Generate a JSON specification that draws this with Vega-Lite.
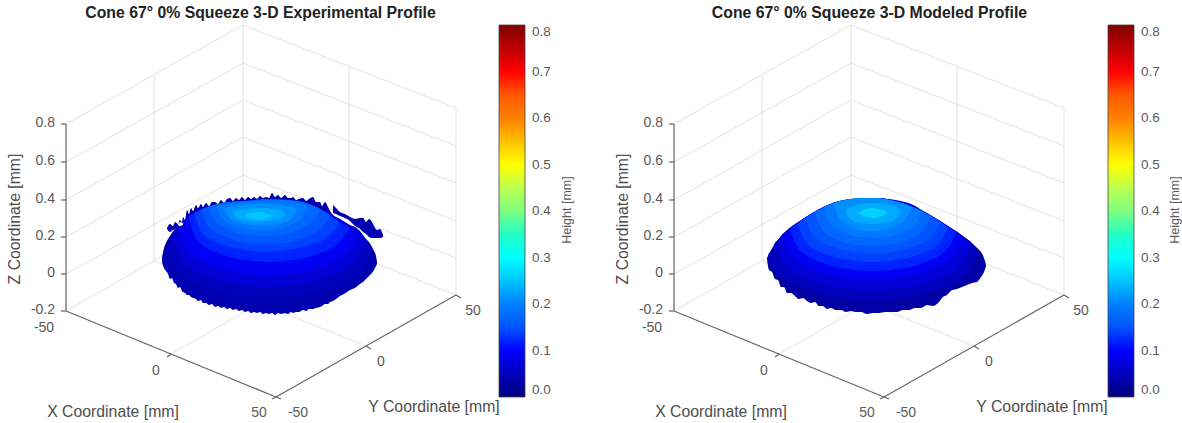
{"$schema":"https://vega.github.io/schema/vega-lite/v6.json","background":"white","padding":0,"autosize":{"type":"pad"},"bounds":"flush","spacing":0,"config":{"view":{"stroke":null},"font":"Liberation Sans","concat":{"spacing":0}},
"datasets":{
"grid":[{"x":66,"y":124,"x2":243,"y2":25},{"x":66,"y":162,"x2":243,"y2":63},{"x":66,"y":200,"x2":243,"y2":100},{"x":66,"y":237,"x2":243,"y2":137},{"x":66,"y":274,"x2":243,"y2":175},{"x":66,"y":311,"x2":243,"y2":210},{"x":243,"y":25,"x2":456,"y2":108},{"x":243,"y":63,"x2":456,"y2":146},{"x":243,"y":100,"x2":456,"y2":183},{"x":243,"y":137,"x2":456,"y2":221},{"x":243,"y":175,"x2":456,"y2":258},{"x":243,"y":210,"x2":456,"y2":295},{"x":243,"y":25,"x2":243,"y2":210},{"x":456,"y":108,"x2":456,"y2":295},{"x":154,"y":76,"x2":154,"y2":261},{"x":349,"y":67,"x2":349,"y2":252},{"x":171,"y":354,"x2":349,"y2":252},{"x":366,"y":346,"x2":154,"y2":261}],
"axes":[{"x":66,"y":124,"x2":66,"y2":311},{"x":66,"y":311,"x2":276,"y2":397},{"x":276,"y":397,"x2":456,"y2":295},{"x":66,"y":124,"x2":61,"y2":124},{"x":66,"y":162,"x2":61,"y2":162},{"x":66,"y":200,"x2":61,"y2":200},{"x":66,"y":237,"x2":61,"y2":237},{"x":66,"y":274,"x2":61,"y2":274},{"x":66,"y":311,"x2":61,"y2":311},{"x":171,"y":354,"x2":167,"y2":357},{"x":276,"y":397,"x2":272,"y2":399},{"x":366,"y":346,"x2":371,"y2":349},{"x":456,"y":295,"x2":461,"y2":298},{"x":276,"y":397,"x2":281,"y2":399}],
"zticks":[{"x":55,"y":123,"t":"0.8"},{"x":55,"y":161,"t":"0.6"},{"x":55,"y":199,"t":"0.4"},{"x":55,"y":236,"t":"0.2"},{"x":55,"y":273,"t":"0"},{"x":55,"y":310,"t":"-0.2"}],
"xyticks":[{"x":44,"y":328,"t":"-50"},{"x":156,"y":371,"t":"0"},{"x":259,"y":413,"t":"50"},{"x":298,"y":413,"t":"-50"},{"x":381,"y":362,"t":"0"},{"x":473,"y":311,"t":"50"}],
"axistitles":[{"x":113,"y":412,"t":"X Coordinate [mm]"},{"x":434,"y":407,"t":"Y Coordinate [mm]"}],
"ztitle":[{"x":15,"y":219,"t":"Z Coordinate [mm]"}],
"cbtitle":[{"x":567,"y":210,"t":"Height [mm]"}],
"domeE":[
{"b":"t1","h":0.04,"x":167,"y":228,"y2":229},{"b":"t1","h":0.04,"x":170,"y":224,"y2":232},{"b":"t1","h":0.04,"x":173,"y":226,"y2":230},{"b":"t1","h":0.04,"x":175,"y":222,"y2":229},{"b":"t1","h":0.04,"x":178,"y":224,"y2":228},{"b":"t1","h":0.04,"x":180,"y":220,"y2":226},
{"b":"t2","h":0.04,"x":333,"y":205,"y2":213},{"b":"t2","h":0.04,"x":336,"y":208,"y2":214},{"b":"t2","h":0.04,"x":340,"y":212,"y2":216},{"b":"t2","h":0.04,"x":345,"y":214,"y2":218},{"b":"t2","h":0.04,"x":350,"y":217,"y2":221},{"b":"t2","h":0.04,"x":355,"y":219,"y2":226},{"b":"t2","h":0.04,"x":360,"y":218,"y2":229},{"b":"t2","h":0.04,"x":363,"y":218,"y2":232},{"b":"t2","h":0.04,"x":366,"y":222,"y2":234},{"b":"t2","h":0.04,"x":369,"y":219,"y2":237},{"b":"t2","h":0.04,"x":372,"y":222,"y2":238},{"b":"t2","h":0.04,"x":374,"y":226,"y2":238},{"b":"t2","h":0.04,"x":377,"y":230,"y2":238},{"b":"t2","h":0.04,"x":380,"y":229,"y2":238},{"b":"t2","h":0.04,"x":383,"y":235,"y2":237},
{"b":"b0","h":0.04,"x":162,"y":258,"y2":262},{"b":"b0","h":0.04,"x":164,"y":248,"y2":268},{"b":"b0","h":0.04,"x":166,"y":243,"y2":271},{"b":"b0","h":0.04,"x":168,"y":239,"y2":274},{"b":"b0","h":0.04,"x":170,"y":236,"y2":279},{"b":"b0","h":0.04,"x":172,"y":233,"y2":278},{"b":"b0","h":0.04,"x":174,"y":230,"y2":283},{"b":"b0","h":0.04,"x":176,"y":228,"y2":284},{"b":"b0","h":0.04,"x":178,"y":225,"y2":288},{"b":"b0","h":0.04,"x":180,"y":220,"y2":287},{"b":"b0","h":0.04,"x":182,"y":222,"y2":291},{"b":"b0","h":0.04,"x":183,"y":217,"y2":292},{"b":"b0","h":0.04,"x":185,"y":220,"y2":293},{"b":"b0","h":0.04,"x":187,"y":210,"y2":295},{"b":"b0","h":0.04,"x":189,"y":214,"y2":295},{"b":"b0","h":0.04,"x":191,"y":208,"y2":297},{"b":"b0","h":0.04,"x":193,"y":211,"y2":298},{"b":"b0","h":0.04,"x":196,"y":205,"y2":299},{"b":"b0","h":0.04,"x":198,"y":208,"y2":301},{"b":"b0","h":0.04,"x":201,"y":204,"y2":300},{"b":"b0","h":0.04,"x":203,"y":207,"y2":303},{"b":"b0","h":0.04,"x":206,"y":203,"y2":303},{"b":"b0","h":0.04,"x":209,"y":206,"y2":305},{"b":"b0","h":0.04,"x":212,"y":202,"y2":304},{"b":"b0","h":0.04,"x":215,"y":202,"y2":307},{"b":"b0","h":0.04,"x":218,"y":204,"y2":306},{"b":"b0","h":0.04,"x":221,"y":200,"y2":308},{"b":"b0","h":0.04,"x":224,"y":203,"y2":307},{"b":"b0","h":0.04,"x":227,"y":199,"y2":309},{"b":"b0","h":0.04,"x":230,"y":198,"y2":308},{"b":"b0","h":0.04,"x":233,"y":201,"y2":310},{"b":"b0","h":0.04,"x":236,"y":198,"y2":309},{"b":"b0","h":0.04,"x":239,"y":200,"y2":311},{"b":"b0","h":0.04,"x":242,"y":197,"y2":310},{"b":"b0","h":0.04,"x":245,"y":200,"y2":312},{"b":"b0","h":0.04,"x":248,"y":197,"y2":311},{"b":"b0","h":0.04,"x":251,"y":199,"y2":313},{"b":"b0","h":0.04,"x":254,"y":197,"y2":312},{"b":"b0","h":0.04,"x":257,"y":199,"y2":313},{"b":"b0","h":0.04,"x":260,"y":196,"y2":312},{"b":"b0","h":0.04,"x":263,"y":198,"y2":314},{"b":"b0","h":0.04,"x":266,"y":197,"y2":313},{"b":"b0","h":0.04,"x":269,"y":198,"y2":314},{"b":"b0","h":0.04,"x":272,"y":193,"y2":313},{"b":"b0","h":0.04,"x":275,"y":197,"y2":315},{"b":"b0","h":0.04,"x":278,"y":195,"y2":313},{"b":"b0","h":0.04,"x":281,"y":198,"y2":314},{"b":"b0","h":0.04,"x":285,"y":195,"y2":313},{"b":"b0","h":0.04,"x":288,"y":198,"y2":314},{"b":"b0","h":0.04,"x":291,"y":198,"y2":312},{"b":"b0","h":0.04,"x":293,"y":197,"y2":313},{"b":"b0","h":0.04,"x":296,"y":200,"y2":312},{"b":"b0","h":0.04,"x":299,"y":199,"y2":312},{"b":"b0","h":0.04,"x":303,"y":198,"y2":310},{"b":"b0","h":0.04,"x":306,"y":201,"y2":311},{"b":"b0","h":0.04,"x":309,"y":199,"y2":309},{"b":"b0","h":0.04,"x":313,"y":197,"y2":309},{"b":"b0","h":0.04,"x":316,"y":202,"y2":308},{"b":"b0","h":0.04,"x":320,"y":202,"y2":307},{"b":"b0","h":0.04,"x":322,"y":206,"y2":306},{"b":"b0","h":0.04,"x":325,"y":202,"y2":304},{"b":"b0","h":0.04,"x":328,"y":207,"y2":304},{"b":"b0","h":0.04,"x":330,"y":211,"y2":302},{"b":"b0","h":0.04,"x":333,"y":215,"y2":301},{"b":"b0","h":0.04,"x":336,"y":217,"y2":299},{"b":"b0","h":0.04,"x":340,"y":219,"y2":296},{"b":"b0","h":0.04,"x":344,"y":222,"y2":294},{"b":"b0","h":0.04,"x":350,"y":225,"y2":290},{"b":"b0","h":0.04,"x":355,"y":227,"y2":288},{"b":"b0","h":0.04,"x":360,"y":231,"y2":284},{"b":"b0","h":0.04,"x":363,"y":235,"y2":282},{"b":"b0","h":0.04,"x":366,"y":239,"y2":279},{"b":"b0","h":0.04,"x":369,"y":242,"y2":276},{"b":"b0","h":0.04,"x":372,"y":247,"y2":273},{"b":"b0","h":0.04,"x":374,"y":251,"y2":270},{"b":"b0","h":0.04,"x":376,"y":256,"y2":266},{"b":"b0","h":0.04,"x":377,"y":262,"y2":264},
{"b":"b1","h":0.05,"x":166,"y":248,"y2":250},{"b":"b1","h":0.05,"x":176,"y":231,"y2":270},{"b":"b1","h":0.05,"x":207,"y":207,"y2":287},{"b":"b1","h":0.05,"x":238,"y":201,"y2":295},{"b":"b1","h":0.05,"x":269,"y":198,"y2":297},{"b":"b1","h":0.05,"x":300,"y":201,"y2":295},{"b":"b1","h":0.05,"x":331,"y":216,"y2":287},{"b":"b1","h":0.05,"x":362,"y":237,"y2":270},{"b":"b1","h":0.05,"x":372,"y":250,"y2":252},
{"b":"b2","h":0.07,"x":172,"y":236,"y2":238},{"b":"b2","h":0.07,"x":182,"y":223,"y2":260},{"b":"b2","h":0.07,"x":211,"y":206,"y2":277},{"b":"b2","h":0.07,"x":240,"y":201,"y2":285},{"b":"b2","h":0.07,"x":269,"y":199,"y2":287},{"b":"b2","h":0.07,"x":298,"y":201,"y2":285},{"b":"b2","h":0.07,"x":327,"y":213,"y2":277},{"b":"b2","h":0.07,"x":356,"y":230,"y2":260},{"b":"b2","h":0.07,"x":366,"y":240,"y2":242},
{"b":"b3","h":0.09,"x":179,"y":228,"y2":230},{"b":"b3","h":0.09,"x":188,"y":217,"y2":250},{"b":"b3","h":0.09,"x":215,"y":205,"y2":266},{"b":"b3","h":0.09,"x":242,"y":201,"y2":273},{"b":"b3","h":0.09,"x":269,"y":199,"y2":275},{"b":"b3","h":0.09,"x":296,"y":201,"y2":273},{"b":"b3","h":0.09,"x":323,"y":210,"y2":266},{"b":"b3","h":0.09,"x":350,"y":227,"y2":250},{"b":"b3","h":0.09,"x":359,"y":233,"y2":235},
{"b":"b4","h":0.11,"x":189,"y":216,"y2":218},{"b":"b4","h":0.11,"x":197,"y":212,"y2":240},{"b":"b4","h":0.11,"x":221,"y":204,"y2":254},{"b":"b4","h":0.11,"x":245,"y":201,"y2":260},{"b":"b4","h":0.11,"x":269,"y":199,"y2":262},{"b":"b4","h":0.11,"x":293,"y":201,"y2":260},{"b":"b4","h":0.11,"x":317,"y":208,"y2":254},{"b":"b4","h":0.11,"x":341,"y":223,"y2":240},{"b":"b4","h":0.11,"x":349,"y":227,"y2":229},
{"b":"b5","h":0.13,"x":195,"y":213,"y2":215},{"b":"b5","h":0.13,"x":202,"y":209,"y2":233},{"b":"b5","h":0.13,"x":224,"y":203,"y2":245},{"b":"b5","h":0.13,"x":245,"y":201,"y2":250},{"b":"b5","h":0.13,"x":267,"y":199,"y2":252},{"b":"b5","h":0.13,"x":289,"y":200,"y2":250},{"b":"b5","h":0.13,"x":310,"y":205,"y2":245},{"b":"b5","h":0.13,"x":332,"y":217,"y2":233},{"b":"b5","h":0.13,"x":339,"y":222,"y2":224},
{"b":"b6","h":0.15,"x":202,"y":209,"y2":211},{"b":"b6","h":0.15,"x":208,"y":207,"y2":226},{"b":"b6","h":0.15,"x":228,"y":202,"y2":238},{"b":"b6","h":0.15,"x":247,"y":201,"y2":243},{"b":"b6","h":0.15,"x":266,"y":199,"y2":244},{"b":"b6","h":0.15,"x":285,"y":200,"y2":243},{"b":"b6","h":0.15,"x":304,"y":203,"y2":238},{"b":"b6","h":0.15,"x":324,"y":211,"y2":226},{"b":"b6","h":0.15,"x":330,"y":215,"y2":217},
{"b":"b7","h":0.17,"x":208,"y":207,"y2":208},{"b":"b7","h":0.17,"x":214,"y":205,"y2":220},{"b":"b7","h":0.17,"x":230,"y":202,"y2":230},{"b":"b7","h":0.17,"x":247,"y":201,"y2":235},{"b":"b7","h":0.17,"x":264,"y":200,"y2":236},{"b":"b7","h":0.17,"x":281,"y":200,"y2":235},{"b":"b7","h":0.17,"x":298,"y":201,"y2":230},{"b":"b7","h":0.17,"x":314,"y":206,"y2":220},{"b":"b7","h":0.17,"x":320,"y":209,"y2":210},
{"b":"b8","h":0.19,"x":216,"y":206,"y2":207},{"b":"b8","h":0.19,"x":221,"y":205,"y2":217},{"b":"b8","h":0.19,"x":234,"y":203,"y2":225},{"b":"b8","h":0.19,"x":248,"y":202,"y2":229},{"b":"b8","h":0.19,"x":262,"y":201,"y2":230},{"b":"b8","h":0.19,"x":276,"y":200,"y2":229},{"b":"b8","h":0.19,"x":290,"y":201,"y2":225},{"b":"b8","h":0.19,"x":303,"y":204,"y2":217},{"b":"b8","h":0.19,"x":308,"y":206,"y2":207},
{"b":"b9","h":0.21,"x":224,"y":209,"y2":209},{"b":"b9","h":0.21,"x":228,"y":207,"y2":216},{"b":"b9","h":0.21,"x":239,"y":205,"y2":223},{"b":"b9","h":0.21,"x":250,"y":204,"y2":225},{"b":"b9","h":0.21,"x":261,"y":204,"y2":226},{"b":"b9","h":0.21,"x":272,"y":204,"y2":225},{"b":"b9","h":0.21,"x":283,"y":205,"y2":223},{"b":"b9","h":0.21,"x":294,"y":207,"y2":216},{"b":"b9","h":0.21,"x":298,"y":209,"y2":209},
{"b":"c0","h":0.23,"x":233,"y":214,"y2":214},{"b":"c0","h":0.23,"x":236,"y":211,"y2":218},{"b":"c0","h":0.23,"x":243,"y":209,"y2":220},{"b":"c0","h":0.23,"x":259,"y":208,"y2":222},{"b":"c0","h":0.23,"x":275,"y":209,"y2":220},{"b":"c0","h":0.23,"x":282,"y":211,"y2":218},{"b":"c0","h":0.23,"x":285,"y":214,"y2":214},
{"b":"c1","h":0.25,"x":244,"y":216,"y2":216},{"b":"c1","h":0.25,"x":250,"y":213,"y2":219},{"b":"c1","h":0.25,"x":258,"y":212,"y2":220},{"b":"c1","h":0.25,"x":266,"y":213,"y2":219},{"b":"c1","h":0.25,"x":272,"y":216,"y2":216}],
"gapsE":[{"g":"a","x":178,"y":224,"y2":225},{"g":"a","x":180,"y":222,"y2":226},{"g":"a","x":183,"y":223,"y2":225}],
"domeM":[
{"b":0,"h":0.03,"x":159,"y":258,"y2":259},{"b":0,"h":0.03,"x":161,"y":254,"y2":270},{"b":0,"h":0.03,"x":164,"y":249,"y2":272},{"b":0,"h":0.03,"x":167,"y":243,"y2":279},{"b":0,"h":0.03,"x":170,"y":240,"y2":280},{"b":0,"h":0.03,"x":173,"y":236,"y2":287},{"b":0,"h":0.03,"x":176,"y":233,"y2":287},{"b":0,"h":0.03,"x":179,"y":231,"y2":293},{"b":0,"h":0.03,"x":183,"y":228,"y2":293},{"b":0,"h":0.03,"x":187,"y":225,"y2":296},{"b":0,"h":0.03,"x":191,"y":222,"y2":299},{"b":0,"h":0.03,"x":195,"y":219,"y2":298},{"b":0,"h":0.03,"x":199,"y":217,"y2":301},{"b":0,"h":0.03,"x":203,"y":214,"y2":303},{"b":0,"h":0.03,"x":207,"y":212,"y2":302},{"b":0,"h":0.03,"x":211,"y":210,"y2":306},{"b":0,"h":0.03,"x":215,"y":208,"y2":306},{"b":0,"h":0.03,"x":219,"y":206,"y2":309},{"b":0,"h":0.03,"x":223,"y":205,"y2":308},{"b":0,"h":0.03,"x":228,"y":203,"y2":310},{"b":0,"h":0.03,"x":233,"y":201,"y2":310},{"b":0,"h":0.03,"x":238,"y":200,"y2":312},{"b":0,"h":0.03,"x":243,"y":199,"y2":311},{"b":0,"h":0.03,"x":248,"y":199,"y2":312},{"b":0,"h":0.03,"x":253,"y":198,"y2":312},{"b":0,"h":0.03,"x":259,"y":198,"y2":314},{"b":0,"h":0.03,"x":265,"y":198,"y2":313},{"b":0,"h":0.03,"x":271,"y":198,"y2":313},{"b":0,"h":0.03,"x":277,"y":199,"y2":312},{"b":0,"h":0.03,"x":283,"y":200,"y2":312},{"b":0,"h":0.03,"x":289,"y":202,"y2":312},{"b":0,"h":0.03,"x":295,"y":203,"y2":310},{"b":0,"h":0.03,"x":301,"y":205,"y2":310},{"b":0,"h":0.03,"x":307,"y":208,"y2":308},{"b":0,"h":0.03,"x":313,"y":211,"y2":308},{"b":0,"h":0.03,"x":319,"y":213,"y2":305},{"b":0,"h":0.03,"x":325,"y":217,"y2":306},{"b":0,"h":0.03,"x":331,"y":221,"y2":302},{"b":0,"h":0.03,"x":335,"y":223,"y2":297},{"b":0,"h":0.03,"x":339,"y":226,"y2":295},{"b":0,"h":0.03,"x":344,"y":229,"y2":290},{"b":0,"h":0.03,"x":349,"y":232,"y2":289},{"b":0,"h":0.03,"x":354,"y":236,"y2":287},{"b":0,"h":0.03,"x":359,"y":239,"y2":285},{"b":0,"h":0.03,"x":364,"y":243,"y2":283},{"b":0,"h":0.03,"x":369,"y":248,"y2":282},{"b":0,"h":0.03,"x":373,"y":252,"y2":277},{"b":0,"h":0.03,"x":376,"y":258,"y2":272},{"b":0,"h":0.03,"x":378,"y":265,"y2":266},
{"b":1,"h":0.05,"x":160,"y":255,"y2":256},{"b":1,"h":0.05,"x":170,"y":240,"y2":273},{"b":1,"h":0.05,"x":202,"y":215,"y2":290},{"b":1,"h":0.05,"x":233,"y":201,"y2":298},{"b":1,"h":0.05,"x":265,"y":198,"y2":300},{"b":1,"h":0.05,"x":297,"y":202,"y2":298},{"b":1,"h":0.05,"x":328,"y":219,"y2":290},{"b":1,"h":0.05,"x":360,"y":240,"y2":273},{"b":1,"h":0.05,"x":370,"y":249,"y2":250},
{"b":2,"h":0.07,"x":167,"y":243,"y2":244},{"b":2,"h":0.07,"x":177,"y":233,"y2":264},{"b":2,"h":0.07,"x":206,"y":212,"y2":281},{"b":2,"h":0.07,"x":236,"y":200,"y2":288},{"b":2,"h":0.07,"x":265,"y":198,"y2":290},{"b":2,"h":0.07,"x":294,"y":203,"y2":288},{"b":2,"h":0.07,"x":324,"y":216,"y2":281},{"b":2,"h":0.07,"x":353,"y":235,"y2":264},{"b":2,"h":0.07,"x":363,"y":242,"y2":243},
{"b":3,"h":0.09,"x":174,"y":236,"y2":237},{"b":3,"h":0.09,"x":183,"y":228,"y2":255},{"b":3,"h":0.09,"x":210,"y":210,"y2":271},{"b":3,"h":0.09,"x":238,"y":200,"y2":278},{"b":3,"h":0.09,"x":265,"y":198,"y2":280},{"b":3,"h":0.09,"x":292,"y":202,"y2":278},{"b":3,"h":0.09,"x":320,"y":214,"y2":271},{"b":3,"h":0.09,"x":347,"y":231,"y2":255},{"b":3,"h":0.09,"x":356,"y":237,"y2":238},
{"b":4,"h":0.11,"x":182,"y":229,"y2":230},{"b":4,"h":0.11,"x":190,"y":223,"y2":248},{"b":4,"h":0.11,"x":215,"y":207,"y2":263},{"b":4,"h":0.11,"x":240,"y":200,"y2":269},{"b":4,"h":0.11,"x":265,"y":198,"y2":271},{"b":4,"h":0.11,"x":290,"y":202,"y2":269},{"b":4,"h":0.11,"x":315,"y":212,"y2":263},{"b":4,"h":0.11,"x":340,"y":227,"y2":248},{"b":4,"h":0.11,"x":348,"y":231,"y2":232},
{"b":5,"h":0.13,"x":190,"y":223,"y2":224},{"b":5,"h":0.13,"x":197,"y":218,"y2":241},{"b":5,"h":0.13,"x":220,"y":205,"y2":255},{"b":5,"h":0.13,"x":243,"y":199,"y2":260},{"b":5,"h":0.13,"x":265,"y":198,"y2":262},{"b":5,"h":0.13,"x":287,"y":201,"y2":260},{"b":5,"h":0.13,"x":310,"y":210,"y2":255},{"b":5,"h":0.13,"x":333,"y":222,"y2":241},{"b":5,"h":0.13,"x":340,"y":227,"y2":228},
{"b":6,"h":0.15,"x":198,"y":218,"y2":219},{"b":6,"h":0.15,"x":205,"y":213,"y2":235},{"b":6,"h":0.15,"x":225,"y":204,"y2":247},{"b":6,"h":0.15,"x":245,"y":199,"y2":252},{"b":6,"h":0.15,"x":265,"y":198,"y2":254},{"b":6,"h":0.15,"x":285,"y":201,"y2":252},{"b":6,"h":0.15,"x":305,"y":207,"y2":247},{"b":6,"h":0.15,"x":325,"y":217,"y2":235},{"b":6,"h":0.15,"x":332,"y":222,"y2":223},
{"b":7,"h":0.17,"x":207,"y":212,"y2":213},{"b":7,"h":0.17,"x":213,"y":209,"y2":228},{"b":7,"h":0.17,"x":230,"y":202,"y2":240},{"b":7,"h":0.17,"x":248,"y":199,"y2":245},{"b":7,"h":0.17,"x":265,"y":198,"y2":246},{"b":7,"h":0.17,"x":282,"y":200,"y2":245},{"b":7,"h":0.17,"x":300,"y":205,"y2":240},{"b":7,"h":0.17,"x":317,"y":213,"y2":228},{"b":7,"h":0.17,"x":323,"y":216,"y2":217},
{"b":8,"h":0.19,"x":216,"y":207,"y2":208},{"b":8,"h":0.19,"x":221,"y":205,"y2":222},{"b":8,"h":0.19,"x":236,"y":200,"y2":232},{"b":8,"h":0.19,"x":250,"y":199,"y2":237},{"b":8,"h":0.19,"x":265,"y":198,"y2":238},{"b":8,"h":0.19,"x":280,"y":200,"y2":237},{"b":8,"h":0.19,"x":294,"y":203,"y2":232},{"b":8,"h":0.19,"x":309,"y":209,"y2":222},{"b":8,"h":0.19,"x":314,"y":211,"y2":212},
{"b":9,"h":0.21,"x":226,"y":203,"y2":204},{"b":9,"h":0.21,"x":230,"y":202,"y2":216},{"b":9,"h":0.21,"x":242,"y":199,"y2":226},{"b":9,"h":0.21,"x":253,"y":198,"y2":230},{"b":9,"h":0.21,"x":265,"y":198,"y2":231},{"b":9,"h":0.21,"x":277,"y":199,"y2":230},{"b":9,"h":0.21,"x":288,"y":202,"y2":226},{"b":9,"h":0.21,"x":300,"y":205,"y2":216},{"b":9,"h":0.21,"x":304,"y":207,"y2":208},
{"b":10,"h":0.23,"x":237,"y":212,"y2":212},{"b":10,"h":0.23,"x":240,"y":208,"y2":217},{"b":10,"h":0.23,"x":248,"y":205,"y2":222},{"b":10,"h":0.23,"x":265,"y":203,"y2":224},{"b":10,"h":0.23,"x":282,"y":205,"y2":222},{"b":10,"h":0.23,"x":290,"y":208,"y2":217},{"b":10,"h":0.23,"x":293,"y":212,"y2":212},
{"b":11,"h":0.26,"x":250,"y":213,"y2":213},{"b":11,"h":0.26,"x":253,"y":211,"y2":215},{"b":11,"h":0.26,"x":258,"y":209,"y2":217},{"b":11,"h":0.26,"x":265,"y":208,"y2":218},{"b":11,"h":0.26,"x":272,"y":209,"y2":217},{"b":11,"h":0.26,"x":277,"y":211,"y2":215},{"b":11,"h":0.26,"x":280,"y":213,"y2":213}]
},
"hconcat":[
{"width":591,"height":423,"title":{"text":"Cone 67° 0% Squeeze 3-D Experimental Profile","fontSize":15.8,"fontWeight":"bold","font":"Liberation Sans","color":"#222222","anchor":"middle","frame":"group","dx":-35,"offset":-22},
"encoding":{"x":{"field":"x","type":"quantitative","scale":{"domain":[0,591],"nice":false,"zero":false},"axis":null},"y":{"field":"y","type":"quantitative","scale":{"domain":[423,0],"nice":false,"zero":false},"axis":null,"stack":null}},
"layer":[
{"data":{"name":"grid"},"mark":{"type":"rule","stroke":"#e2e2e2","strokeWidth":1},"encoding":{"x2":{"field":"x2"},"y2":{"field":"y2"}}},
{"data":{"name":"axes"},"mark":{"type":"rule","stroke":"#666666","strokeWidth":1.2},"encoding":{"x2":{"field":"x2"},"y2":{"field":"y2"}}},
{"data":{"name":"domeE"},"mark":{"type":"area","interpolate":"monotone"},"encoding":{"y2":{"field":"y2"},"detail":{"field":"b","type":"ordinal"},"color":{"field":"h","type":"quantitative","scale":{"domain":[0,0.8],"range":["#000080","#0000ff","#0080ff","#00ffff","#80ff80","#ffff00","#ff8000","#ff0000","#800000"]},"legend":{"orient":"none","legendX":499,"legendY":25,"title":null,"direction":"vertical","gradientLength":372,"gradientThickness":26,"gradientStrokeColor":"#444444","gradientStrokeWidth":0.8,"values":[0,0.1,0.2,0.3,0.4,0.5,0.6,0.7,0.8],"labelFontSize":13.5,"labelColor":"#5a5a5a","labelFont":"Liberation Sans","labelOffset":7}}}},
{"data":{"name":"gapsE"},"mark":{"type":"area","fill":"#ffffff"},"encoding":{"y2":{"field":"y2"},"detail":{"field":"g"}}},
{"data":{"name":"zticks"},"mark":{"type":"text","align":"right","baseline":"middle","fontSize":14,"color":"#5a5a5a"},"encoding":{"text":{"field":"t"}}},
{"data":{"name":"xyticks"},"mark":{"type":"text","align":"center","baseline":"middle","fontSize":14,"color":"#5a5a5a"},"encoding":{"text":{"field":"t"}}},
{"data":{"name":"axistitles"},"mark":{"type":"text","align":"center","baseline":"middle","fontSize":15.8,"color":"#4d4d4d"},"encoding":{"text":{"field":"t"}}},
{"data":{"name":"ztitle"},"mark":{"type":"text","align":"center","baseline":"middle","fontSize":15.8,"color":"#4d4d4d","angle":270},"encoding":{"text":{"field":"t"}}},
{"data":{"name":"cbtitle"},"mark":{"type":"text","align":"center","baseline":"middle","fontSize":12.5,"color":"#5a5a5a","angle":270},"encoding":{"text":{"field":"t"}}}
]},
{"width":591,"height":423,"title":{"text":"Cone 67° 0% Squeeze 3-D Modeled Profile","fontSize":15.8,"fontWeight":"bold","font":"Liberation Sans","color":"#222222","anchor":"middle","frame":"group","dx":-17,"offset":-22},
"encoding":{"x":{"field":"x","type":"quantitative","scale":{"domain":[-17,574],"nice":false,"zero":false},"axis":null},"y":{"field":"y","type":"quantitative","scale":{"domain":[423,0],"nice":false,"zero":false},"axis":null,"stack":null}},
"layer":[
{"data":{"name":"grid"},"mark":{"type":"rule","stroke":"#e2e2e2","strokeWidth":1},"encoding":{"x2":{"field":"x2"},"y2":{"field":"y2"}}},
{"data":{"name":"axes"},"mark":{"type":"rule","stroke":"#666666","strokeWidth":1.2},"encoding":{"x2":{"field":"x2"},"y2":{"field":"y2"}}},
{"data":{"name":"domeM"},"mark":{"type":"area","interpolate":"monotone"},"encoding":{"y2":{"field":"y2"},"detail":{"field":"b","type":"ordinal"},"color":{"field":"h","type":"quantitative","scale":{"domain":[0,0.8],"range":["#000080","#0000ff","#0080ff","#00ffff","#80ff80","#ffff00","#ff8000","#ff0000","#800000"]},"legend":{"orient":"none","legendX":517,"legendY":25,"title":null,"direction":"vertical","gradientLength":372,"gradientThickness":26,"gradientStrokeColor":"#444444","gradientStrokeWidth":0.8,"values":[0,0.1,0.2,0.3,0.4,0.5,0.6,0.7,0.8],"labelFontSize":13.5,"labelColor":"#5a5a5a","labelFont":"Liberation Sans","labelOffset":7}}}},
{"data":{"name":"zticks"},"mark":{"type":"text","align":"right","baseline":"middle","fontSize":14,"color":"#5a5a5a"},"encoding":{"text":{"field":"t"}}},
{"data":{"name":"xyticks"},"mark":{"type":"text","align":"center","baseline":"middle","fontSize":14,"color":"#5a5a5a"},"encoding":{"text":{"field":"t"}}},
{"data":{"name":"axistitles"},"mark":{"type":"text","align":"center","baseline":"middle","fontSize":15.8,"color":"#4d4d4d"},"encoding":{"text":{"field":"t"}}},
{"data":{"name":"ztitle"},"mark":{"type":"text","align":"center","baseline":"middle","fontSize":15.8,"color":"#4d4d4d","angle":270},"encoding":{"text":{"field":"t"}}},
{"data":{"name":"cbtitle"},"mark":{"type":"text","align":"center","baseline":"middle","fontSize":12.5,"color":"#5a5a5a","angle":270},"encoding":{"text":{"field":"t"}}}
]}
],"resolve":{"scale":{"color":"independent"},"legend":{"color":"independent"}}}
